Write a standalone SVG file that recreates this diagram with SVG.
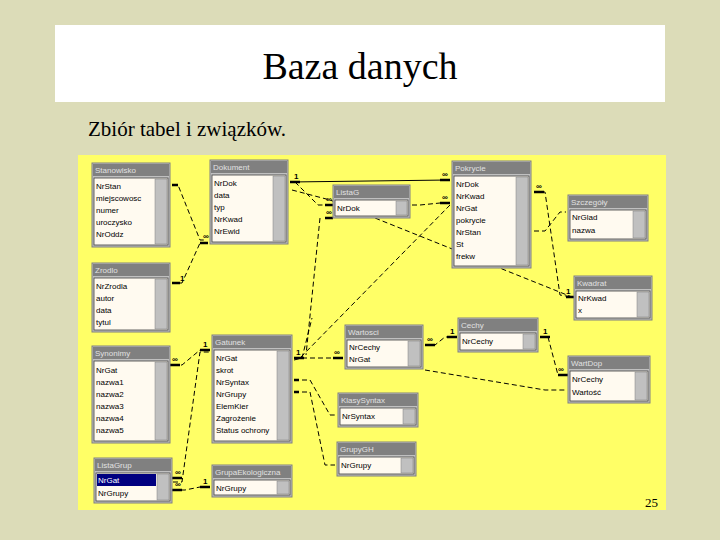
<svg xmlns="http://www.w3.org/2000/svg" width="720" height="540" viewBox="0 0 720 540">
<style>
.t{font-family:"Liberation Sans",Arial,sans-serif;font-size:8px;fill:#000}
.h{font-family:"Liberation Sans",Arial,sans-serif;font-size:8px;fill:#e0e0e0}
.win{fill:#c0c0c0;stroke:#808080;stroke-width:1}
.bar{fill:#808080}
.body{fill:#fffaf0;stroke:#404040;stroke-width:0.8}
.sb{fill:#c0c0c0;stroke:#808080;stroke-width:0.5}
.c{fill:none;stroke:#000;stroke-width:1;stroke-dasharray:5 3}
.s{fill:none;stroke:#000;stroke-width:1}
.e{fill:none;stroke:#000;stroke-width:2.5}
.m{font-family:"Liberation Sans",Arial,sans-serif;font-size:8px;font-weight:bold;fill:#000}
</style>
<rect width="720" height="540" fill="#dcdcb8"/>
<rect x="55" y="25" width="610" height="77" fill="#fff"/>
<text x="360" y="79" text-anchor="middle" font-family="'Liberation Serif',serif" font-size="38">Baza danych</text>
<text x="88" y="136" font-family="'Liberation Serif',serif" font-size="21">Zbiór tabel i związków.</text>
<rect x="78" y="155" width="588" height="355" fill="#ffff66"/>

<g id="connectors">
<path class="c" d="M172,185 L178,185 L200,240 L206,240"/>
<path class="c" d="M172,283 L182,283 L200,243 L206,243"/>
<path class="s" d="M290,182 L448,180"/>
<path class="c" d="M295,182 L318,205 L330,205"/>
<path class="c" d="M412,205 L420,205 L440,203 L450,203"/>
<path class="c" d="M292,190 L330,200 L572,297"/>
<path class="c" d="M320,218 L306,355"/>
<path class="c" d="M450,205 L300,358"/>
<path class="c" d="M534,192 L545,192 L560,295 L572,297"/>
<path class="c" d="M534,231 L545,231 L560,212 L566,212"/>
<path class="c" d="M173,365 L182,365 L200,350 L210,350"/>
<path class="c" d="M173,482 L182,482 L200,352 L210,352"/>
<path class="c" d="M173,490 L185,490 L200,487 L210,487"/>
<path class="c" d="M294,358 L343,358"/>
<path class="c" d="M294,360 L302,358 L312,318"/>
<path class="c" d="M294,380 L310,380 L330,415 L336,415"/>
<path class="c" d="M294,392 L310,392 L325,465 L335,465"/>
<path class="c" d="M425,345 L435,345 L445,337 L457,337"/>
<path class="c" d="M540,337 L548,337 L558,375 L567,375"/>
<path class="c" d="M425,370 L545,390 L567,390"/>
<g stroke="#000" stroke-width="2.5">
<path d="M172,185 h6 M200,243 h8 M172,283 h8 M290,182 h10 M325,205 h8 M325,218 h8 M440,180 h10 M440,203 h10 M534,192 h10 M566,297 h8 M170,365 h10 M200,350 h10 M172,478 h10 M172,490 h10 M200,487 h10 M294,358 h10 M333,358 h10 M425,345 h10 M447,337 h10 M540,337 h10 M558,375 h10 M294,380 h5 M294,392 h5"/>
</g>
<text class="m" x="203" y="239">∞</text><text class="m" x="180" y="281">1</text>
<text class="m" x="294" y="179">1</text><text class="m" x="326" y="202">∞</text><text class="m" x="326" y="215">∞</text>
<text class="m" x="442" y="177">∞</text><text class="m" x="442" y="200">∞</text><text class="m" x="536" y="189">∞</text>
<text class="m" x="566" y="294">1</text><text class="m" x="172" y="362">∞</text><text class="m" x="203" y="347">1</text>
<text class="m" x="175" y="475">∞</text><text class="m" x="175" y="487">∞</text><text class="m" x="203" y="484">1</text>
<text class="m" x="296" y="355">1</text><text class="m" x="334" y="355">∞</text><text class="m" x="427" y="342">∞</text>
<text class="m" x="450" y="334">1</text><text class="m" x="543" y="334">1</text><text class="m" x="558" y="372">∞</text>
</g>

<g id="Stanowisko"><rect class="win" x="92" y="163" width="78" height="84"/><rect class="bar" x="93" y="164" width="76" height="12"/><text class="h" x="95" y="173">Stanowisko</text><rect class="body" x="94" y="178" width="74" height="67"/><rect class="sb" x="155" y="179" width="12" height="65"/>
<text class="t" x="96" y="189">NrStan</text><text class="t" x="96" y="201">miejscowosc</text><text class="t" x="96" y="213">numer</text><text class="t" x="96" y="225">uroczysko</text><text class="t" x="96" y="237">NrOddz</text></g>

<g id="Dokument"><rect class="win" x="210" y="160" width="78" height="84"/><rect class="bar" x="211" y="161" width="76" height="12"/><text class="h" x="213" y="170">Dokument</text><rect class="body" x="212" y="175" width="74" height="67"/><rect class="sb" x="273" y="176" width="12" height="65"/>
<text class="t" x="214" y="186">NrDok</text><text class="t" x="214" y="198">data</text><text class="t" x="214" y="210">typ</text><text class="t" x="214" y="222">NrKwad</text><text class="t" x="214" y="234">NrEwid</text></g>

<g id="ListaG"><rect class="win" x="333" y="185" width="77" height="33"/><rect class="bar" x="334" y="186" width="75" height="12"/><text class="h" x="336" y="195">ListaG</text><rect class="body" x="335" y="200" width="73" height="16"/><rect class="sb" x="396" y="201" width="11" height="14"/>
<text class="t" x="337" y="211">NrDok</text></g>

<g id="Pokrycie"><rect class="win" x="452" y="161" width="79" height="107"/><rect class="bar" x="453" y="162" width="77" height="12"/><text class="h" x="455" y="171">Pokrycie</text><rect class="body" x="454" y="176" width="75" height="90"/><rect class="sb" x="516" y="177" width="12" height="88"/>
<text class="t" x="456" y="187">NrDok</text><text class="t" x="456" y="199">NrKwad</text><text class="t" x="456" y="211">NrGat</text><text class="t" x="456" y="223">pokrycie</text><text class="t" x="456" y="235">NrStan</text><text class="t" x="456" y="247">St</text><text class="t" x="456" y="259">frekw</text></g>

<g id="Szczegoly"><rect class="win" x="568" y="195" width="80" height="46"/><rect class="bar" x="569" y="196" width="78" height="12"/><text class="h" x="571" y="205">Szczegóły</text><rect class="body" x="570" y="210" width="76" height="29"/><rect class="sb" x="633" y="211" width="12" height="27"/>
<text class="t" x="572" y="220">NrGlad</text><text class="t" x="572" y="233">nazwa</text></g>

<g id="Kwadrat"><rect class="win" x="574" y="276" width="78" height="44"/><rect class="bar" x="575" y="277" width="76" height="12"/><text class="h" x="577" y="286">Kwadrat</text><rect class="body" x="576" y="291" width="74" height="27"/><rect class="sb" x="637" y="292" width="12" height="25"/>
<text class="t" x="578" y="301">NrKwad</text><text class="t" x="578" y="313">x</text></g>

<g id="Zrodlo"><rect class="win" x="92" y="263" width="78" height="69"/><rect class="bar" x="93" y="264" width="76" height="12"/><text class="h" x="95" y="273">Zrodlo</text><rect class="body" x="94" y="278" width="74" height="52"/><rect class="sb" x="155" y="279" width="12" height="50"/>
<text class="t" x="96" y="289">NrZrodla</text><text class="t" x="96" y="301">autor</text><text class="t" x="96" y="313">data</text><text class="t" x="96" y="325">tytul</text></g>

<g id="Synonimy"><rect class="win" x="92" y="346" width="78" height="97"/><rect class="bar" x="93" y="347" width="76" height="12"/><text class="h" x="95" y="356">Synonimy</text><rect class="body" x="94" y="361" width="74" height="80"/><rect class="sb" x="155" y="362" width="12" height="78"/>
<text class="t" x="96" y="373">NrGat</text><text class="t" x="96" y="385">nazwa1</text><text class="t" x="96" y="397">nazwa2</text><text class="t" x="96" y="409">nazwa3</text><text class="t" x="96" y="421">nazwa4</text><text class="t" x="96" y="433">nazwa5</text></g>

<g id="Gatunek"><rect class="win" x="212" y="335" width="80" height="108"/><rect class="bar" x="213" y="336" width="78" height="12"/><text class="h" x="215" y="345">Gatunek</text><rect class="body" x="214" y="350" width="76" height="91"/><rect class="sb" x="277" y="351" width="12" height="89"/>
<text class="t" x="216" y="361">NrGat</text><text class="t" x="216" y="373">skrot</text><text class="t" x="216" y="385">NrSyntax</text><text class="t" x="216" y="397">NrGrupy</text><text class="t" x="216" y="409">ElemKier</text><text class="t" x="216" y="421">Zagrożenie</text><text class="t" x="216" y="433">Status ochrony</text></g>

<g id="Wartosci"><rect class="win" x="345" y="325" width="78" height="44"/><rect class="bar" x="346" y="326" width="76" height="12"/><text class="h" x="348" y="335">Wartosci</text><rect class="body" x="347" y="340" width="74" height="27"/><rect class="sb" x="408" y="341" width="12" height="25"/>
<text class="t" x="349" y="350">NrCechy</text><text class="t" x="349" y="362">NrGat</text></g>

<g id="Cechy"><rect class="win" x="458" y="318" width="80" height="34"/><rect class="bar" x="459" y="319" width="78" height="12"/><text class="h" x="461" y="328">Cechy</text><rect class="body" x="460" y="333" width="76" height="17"/><rect class="sb" x="523" y="334" width="12" height="15"/>
<text class="t" x="462" y="344">NrCechy</text></g>

<g id="WartDop"><rect class="win" x="568" y="356" width="82" height="47"/><rect class="bar" x="569" y="357" width="80" height="12"/><text class="h" x="571" y="366">WartDop</text><rect class="body" x="570" y="371" width="78" height="30"/><rect class="sb" x="635" y="372" width="12" height="28"/>
<text class="t" x="572" y="382">NrCechy</text><text class="t" x="572" y="395">Wartość</text></g>

<g id="KlasySyntax"><rect class="win" x="338" y="393" width="80" height="34"/><rect class="bar" x="339" y="394" width="78" height="12"/><text class="h" x="341" y="403">KlasySyntax</text><rect class="body" x="340" y="408" width="76" height="17"/><rect class="sb" x="403" y="409" width="12" height="15"/>
<text class="t" x="342" y="419">NrSyntax</text></g>

<g id="GrupyGH"><rect class="win" x="337" y="442" width="79" height="34"/><rect class="bar" x="338" y="443" width="77" height="12"/><text class="h" x="340" y="452">GrupyGH</text><rect class="body" x="339" y="457" width="75" height="17"/><rect class="sb" x="401" y="458" width="12" height="15"/>
<text class="t" x="341" y="468">NrGrupy</text></g>

<g id="ListaGrup"><rect class="win" x="94" y="458" width="78" height="45"/><rect class="bar" x="95" y="459" width="76" height="12"/><text class="h" x="97" y="468">ListaGrup</text><rect class="body" x="96" y="473" width="74" height="28"/><rect x="97" y="474" width="59" height="12" fill="#000080"/><rect class="sb" x="157" y="474" width="12" height="26"/>
<text class="t" x="98" y="483" fill="#fff" style="fill:#fff">NrGat</text><text class="t" x="98" y="496">NrGrupy</text></g>

<g id="GrupaEkologiczna"><rect class="win" x="212" y="465" width="80" height="32"/><rect class="bar" x="213" y="466" width="78" height="12"/><text class="h" x="215" y="475">GrupaEkologiczna</text><rect class="body" x="214" y="480" width="76" height="15"/><rect class="sb" x="277" y="481" width="12" height="13"/>
<text class="t" x="216" y="491">NrGrupy</text></g>

<text x="658" y="507" text-anchor="end" font-family="'Liberation Serif',serif" font-size="13">25</text>
</svg>
